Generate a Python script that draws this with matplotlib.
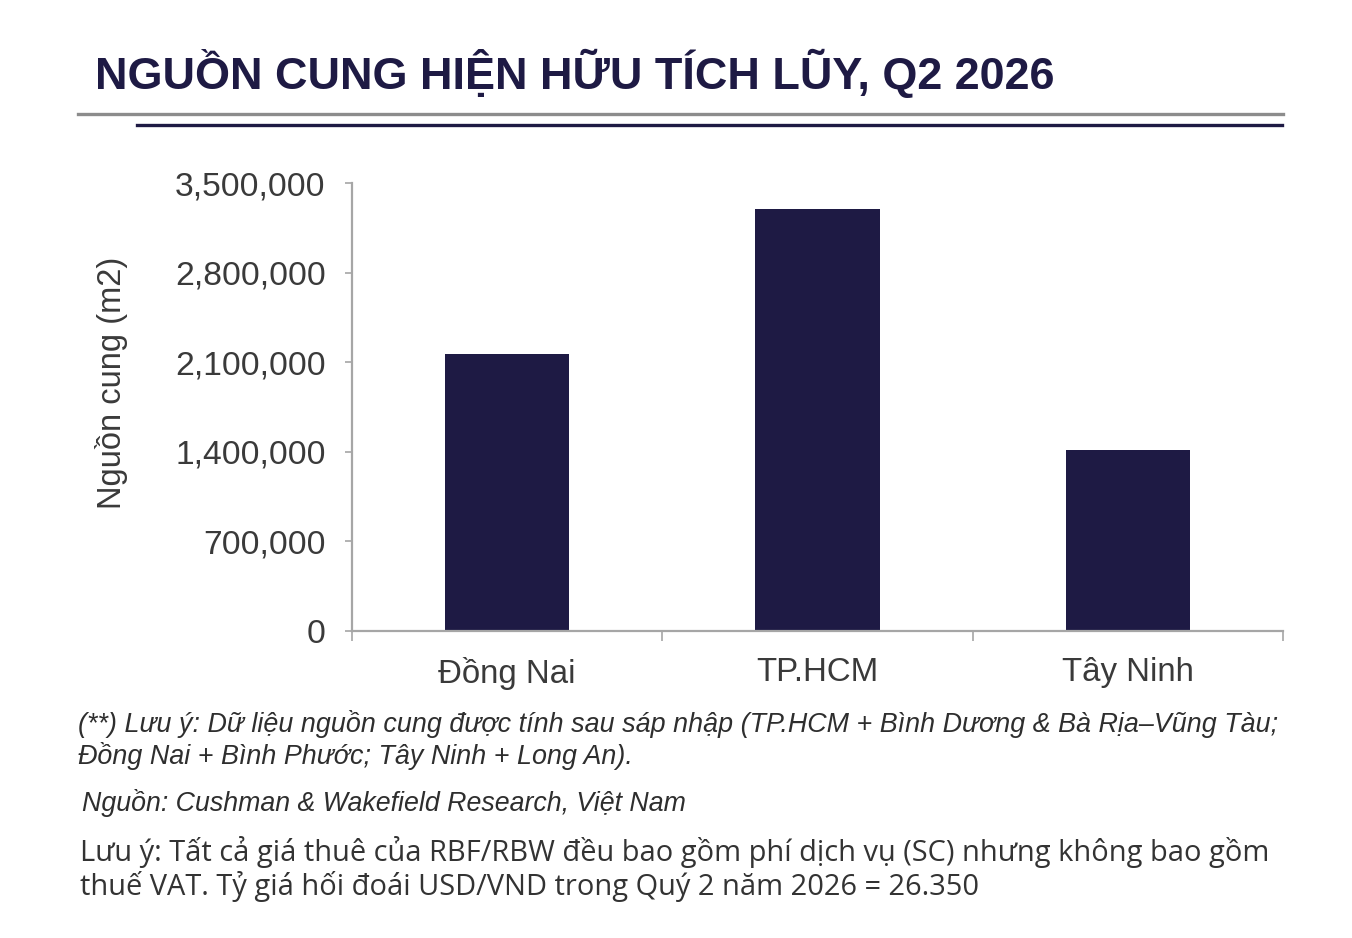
import matplotlib
matplotlib.use("Agg")
import matplotlib.pyplot as plt
from matplotlib.lines import Line2D
from matplotlib.ticker import FuncFormatter, FixedLocator

categories = ["Đồng Nai", "TP.HCM", "Tây Ninh"]
supply_m2 = [2165000, 3295000, 1415000]
y_ticks = [0, 700000, 1400000, 2100000, 2800000, 3500000]

title = "NGUỒN CUNG HIỆN HỮU TÍCH LŨY, Q2 2026"
y_label = "Nguồn cung (m2)"
note1 = ("(**) Lưu ý: Dữ liệu nguồn cung được tính sau sáp nhập (TP.HCM + Bình Dương & Bà Rịa–Vũng Tàu;\n"
         "Đồng Nai + Bình Phước; Tây Ninh + Long An).")
source = "Nguồn: Cushman & Wakefield Research, Việt Nam"
note2 = ("Lưu ý: Tất cả giá thuê của RBF/RBW đều bao gồm phí dịch vụ (SC) nhưng không bao gồm\n"
         "thuế VAT. Tỷ giá hối đoái USD/VND trong Quý 2 năm 2026 = 26.350")

NAVY = "#1e1a44"
TXT = "#3a3a3a"

plt.rcParams['font.family'] = ['Liberation Sans', 'DejaVu Sans']

W, H = 1352, 938
fig = plt.figure(figsize=(W / 100, H / 100), dpi=100)

def fx(px):
    return px / W

def fy(py):
    return 1 - py / H

# title
fig.text(fx(95), fy(73), title, fontsize=32.4, fontweight='bold', color=NAVY,
         va='center', ha='left')
# separator lines
fig.add_artist(Line2D([fx(78), fx(1283)], [fy(114), fy(114)], color="#8c8c8c", lw=2.4))
fig.add_artist(Line2D([fx(137), fx(1282)], [fy(125), fy(125)], color=NAVY, lw=2.4))

ax = fig.add_axes([fx(352), fy(631), fx(1283) - fx(352), fy(183) - fy(631)])
x = range(len(categories))
ax.bar(x, supply_m2, width=0.4, color=NAVY, zorder=2)
ax.set_xlim(-0.5, len(categories) - 0.5)
ax.set_ylim(0, 3500000)
ax.set_yticks(y_ticks)
ax.yaxis.set_major_formatter(FuncFormatter(lambda v, p: f"{int(v):,}"))
ax.set_xticks(list(x))
ax.set_xticklabels(categories)
ax.xaxis.set_minor_locator(FixedLocator([i - 0.5 for i in range(len(categories) + 1)]))
ax.tick_params(axis='x', which='major', length=0, pad=19, labelsize=23.8, labelcolor=TXT)
ax.tick_params(axis='x', which='minor', length=7, width=1.2, color="#a6a6a6", direction='out')
ax.tick_params(axis='y', which='major', length=5, width=1.2, color="#a6a6a6", pad=14,
               labelsize=24.2, labelcolor=TXT)
for s in ['top', 'right']:
    ax.spines[s].set_visible(False)
for s in ['left', 'bottom']:
    ax.spines[s].set_color("#a6a6a6")
    ax.spines[s].set_linewidth(1.6)

fig.text(fx(111), fy(383), y_label, rotation=90, fontsize=23.5, color=TXT,
         ha='center', va='center')

fig.text(fx(78), fy(740), note1, fontsize=19.4, style='italic', color="#2e2e2e",
         ha='left', va='center', linespacing=1.15)
fig.text(fx(82), fy(803), source, fontsize=19.3, style='italic', color="#2e2e2e",
         ha='left', va='center')
fig.text(fx(80), fy(869), note2, fontsize=20.9, color="#333333",
         ha='left', va='center', linespacing=1.1,
         family=['Open Sans', 'DejaVu Sans'])

fig.savefig("out.png", dpi=100)
